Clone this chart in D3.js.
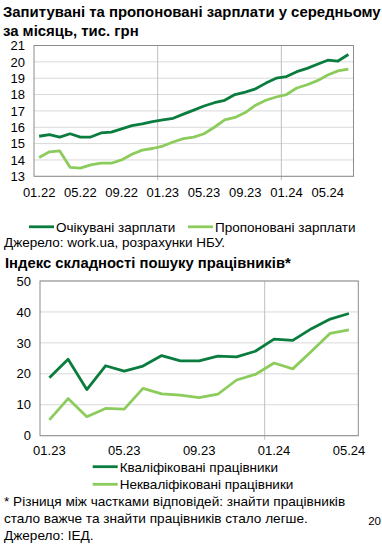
<!DOCTYPE html>
<html><head><meta charset="utf-8">
<script src="https://cdn.jsdelivr.net/npm/d3@7"></script>
<style>
html,body{margin:0;padding:0;background:#fff;}
svg{display:block;font-family:"Liberation Sans",Arial,sans-serif;}
</style></head>
<body><svg id="c" width="382" height="544"></svg>
<script>
// ---- Chart 1 data ----
const months1 = ["01.22","02.22","03.22","04.22","05.22","06.22","07.22","08.22","09.22","10.22","11.22","12.22",
  "01.23","02.23","03.23","04.23","05.23","06.23","07.23","08.23","09.23","10.23","11.23","12.23",
  "01.24","02.24","03.24","04.24","05.24","06.24","07.24"];
const expectedWages = [15.45,15.55,15.4,15.6,15.4,15.4,15.65,15.7,15.9,16.1,16.2,16.35,16.45,16.55,16.8,17.05,17.3,17.5,17.65,18.0,18.15,18.35,18.7,19.0,19.1,19.4,19.6,19.85,20.1,20.05,20.45];
const offeredWages = [14.15,14.5,14.55,13.55,13.5,13.7,13.8,13.8,14.0,14.35,14.6,14.7,14.85,15.1,15.3,15.4,15.6,16.0,16.45,16.6,16.9,17.35,17.65,17.85,18.0,18.4,18.6,18.85,19.2,19.45,19.55];
const ticks1X = ["01.22","05.22","09.22","01.23","05.23","09.23","01.24","05.24"];
const ticks1Y = [13,14,15,16,17,18,19,20,21];
const seriesNames1 = ["Очікувані зарплати","Пропоновані зарплати"];

// ---- Chart 2 data ----
const months2 = ["01.23","02.23","03.23","04.23","05.23","06.23","07.23","08.23","09.23","10.23","11.23","12.23",
  "01.24","02.24","03.24","04.24","05.24"];
const skilled = [18.7,24.7,14.9,22.6,20.9,22.5,25.9,24.2,24.2,25.7,25.5,27.3,31.2,30.8,34.6,37.7,39.5];
const unskilled = [5.1,12.0,6.1,8.8,8.6,15.3,13.5,13.1,12.3,13.4,18.0,19.8,23.5,21.6,27.3,33.1,34.2];
const ticks2X = ["01.23","05.23","09.23","01.24","05.24"];
const ticks2Y = [0,10,20,30,40,50];
const seriesNames2 = ["Кваліфіковані працівники","Некваліфіковані працівники"];

const DARK = "#0a7d3e", LIGHT = "#8ccc5c";
const svg = d3.select("#c");

function drawChart(o){
  const g = svg.append("g");
  const x = d3.scaleBand().domain(o.cats).range([o.left,o.right]).paddingInner(0).paddingOuter(0);
  const y = d3.scaleLinear().domain(o.ydom).range([o.bottom,o.top]);
  const cx = c => x(c) + x.bandwidth()/2;
  g.selectAll("line.hg").data(o.yticks).join("line")
    .attr("x1",o.left).attr("x2",o.right).attr("y1",d=>y(d)).attr("y2",d=>y(d))
    .attr("stroke","#d9d9d9").attr("stroke-width",1);
  g.selectAll("line.vg").data(o.seps).join("line")
    .attr("x1",d=>x(d)).attr("x2",d=>x(d)).attr("y1",o.top).attr("y2",o.bottom+4)
    .attr("stroke","#bfbfbf").attr("stroke-width",1);
  g.append("rect").attr("x",o.left).attr("y",o.top).attr("width",o.right-o.left).attr("height",o.bottom-o.top)
    .attr("fill","none").attr("stroke","#8c8c8c").attr("stroke-width",1);
  const ya = d3.axisLeft(y).tickValues(o.yticks).tickSize(0).tickPadding(0);
  const yg = g.append("g").attr("transform",`translate(${o.ylabX},0)`).call(ya);
  yg.select(".domain").remove();
  yg.selectAll("text").attr("font-size",13).attr("fill","#000").attr("font-family","Liberation Sans, Arial, sans-serif");
  const xa = d3.axisBottom(x).tickValues(o.xticks).tickSize(0).tickPadding(0);
  const xg = g.append("g").attr("transform",`translate(0,${o.xlabY})`).call(xa);
  xg.select(".domain").remove();
  xg.selectAll("text").attr("font-size",13).attr("fill","#000").attr("font-family","Liberation Sans, Arial, sans-serif");
  const line = d3.line().x((d,i)=>cx(o.cats[i])).y(d=>y(d));
  o.series.forEach((s,k)=>{
    g.append("path").datum(s).attr("d",line).attr("fill","none")
      .attr("stroke",o.colors[k]).attr("stroke-width",2.8).attr("stroke-linejoin","round");
  });
}

function text(x,y,t,opts={}){
  return svg.append("text").attr("x",x).attr("y",y).text(t)
    .attr("font-size",opts.size||13).attr("font-weight",opts.bold?"bold":"normal")
    .attr("fill","#000").attr("text-anchor",opts.anchor||"start");
}

text(3,17,"Запитувані та пропоновані зарплати у середньому",{size:14.9,bold:true});
text(3,36,"за місяць, тис. грн",{size:14.9,bold:true});

drawChart({cats:months1, left:34, right:353.5, top:45.5, bottom:176.3, ydom:[13,21],
  yticks:ticks1Y, xticks:ticks1X, seps:["01.23","01.24"], ylabX:25, xlabY:188,
  series:[expectedWages,offeredWages], colors:[DARK,LIGHT]});

function legend(x,y,color,label){
  svg.append("line").attr("x1",x).attr("x2",x+25).attr("y1",y).attr("y2",y).attr("stroke",color).attr("stroke-width",2.8);
  text(x+27,y+5,label,{size:13.5});
}
legend(29,226.8,DARK,seriesNames1[0]);
legend(188,226.8,LIGHT,seriesNames1[1]);
text(4,246.5,"Джерело: work.ua, розрахунки НБУ.",{size:13.5});

text(5,268,"Індекс складності пошуку працівників*",{size:14.8,bold:true});

drawChart({cats:months2, left:40, right:358.3, top:281, bottom:435.7, ydom:[0,50],
  yticks:ticks2Y, xticks:ticks2X, seps:["01.24"], ylabX:31, xlabY:446,
  series:[skilled,unskilled], colors:[DARK,LIGHT]});

legend(92.7,466.7,DARK,seriesNames2[0]);
legend(92.7,484.3,LIGHT,seriesNames2[1]);

text(4,506,"* Різниця між частками відповідей: знайти працівників",{size:13.6});
text(4,523,"стало важче та знайти працівників стало легше.",{size:13.6});
text(4,539.5,"Джерело: ІЕД.",{size:13.6});
text(381,525,"20",{size:11.5,anchor:"end"});
</script></body></html>
